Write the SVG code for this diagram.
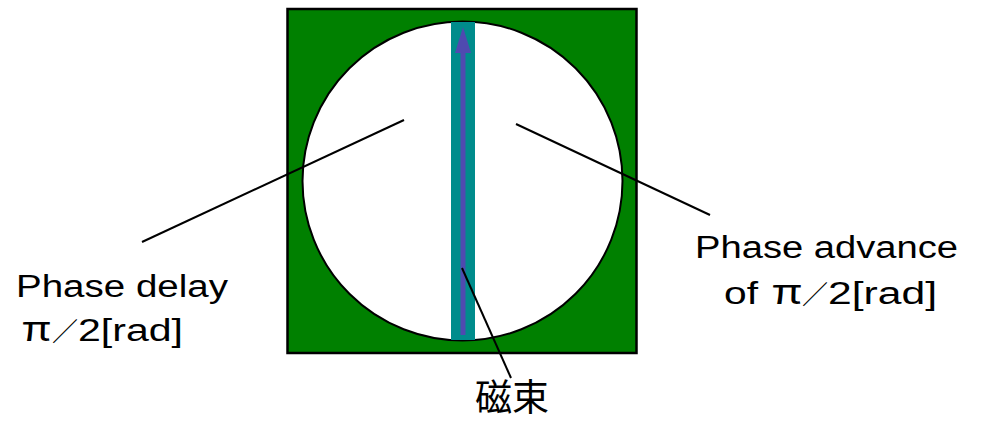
<svg xmlns="http://www.w3.org/2000/svg" width="982" height="422" viewBox="0 0 982 422">
<style>
.lbl{font-family:"Liberation Sans","Noto Sans CJK JP",sans-serif;font-size:31px;fill:#000}
.cjk{font-family:"Noto Sans CJK JP",sans-serif;fill:#000}
.ld{stroke:#000;stroke-width:2;fill:none}
</style>
<rect width="982" height="422" fill="#fff"/>
<g id="frame">
<rect x="287.5" y="9" width="349" height="344" fill="#008000" stroke="#000" stroke-width="2.5"/>
<ellipse cx="462.5" cy="181" rx="160" ry="159.5" fill="#fff" stroke="#000" stroke-width="2"/>
</g>
<g id="flux">
<rect x="451" y="22" width="24" height="318" fill="#008C8C"/>
<rect x="460.5" y="50" width="5" height="285" fill="#4F4AB0"/>
<polygon points="463,27 455,53 471,53" fill="#4F4AB0"/>
</g>
<g id="connectors">
<line class="ld" x1="404" y1="120" x2="142" y2="242"/>
<line class="ld" x1="516" y1="124" x2="710" y2="215"/>
<line class="ld" x1="462" y1="268" x2="511" y2="378"/>
</g>
<g id="label-delay">
<text class="lbl" x="16" y="297" textLength="212" lengthAdjust="spacingAndGlyphs">Phase delay</text>
<text class="cjk" x="22" y="341" font-size="34" textLength="29" lengthAdjust="spacingAndGlyphs">π</text>
<text class="cjk" x="52" y="341" font-size="26">／</text>
<text class="lbl" x="78" y="341" font-size="32" textLength="105" lengthAdjust="spacingAndGlyphs">2[rad]</text>
</g>
<g id="label-advance">
<text class="lbl" x="695" y="258" textLength="263" lengthAdjust="spacingAndGlyphs">Phase advance</text>
<text class="lbl" x="724" y="304" textLength="34" lengthAdjust="spacingAndGlyphs">of</text>
<text class="cjk" x="772" y="304" font-size="34" textLength="30" lengthAdjust="spacingAndGlyphs">π</text>
<text class="cjk" x="802" y="304" font-size="26">／</text>
<text class="lbl" x="828" y="304" font-size="32" textLength="109" lengthAdjust="spacingAndGlyphs">2[rad]</text>
</g>
<g id="label-flux">
<text class="cjk" x="512" y="411" font-size="37" text-anchor="middle">磁束</text>
</g>
</svg>
